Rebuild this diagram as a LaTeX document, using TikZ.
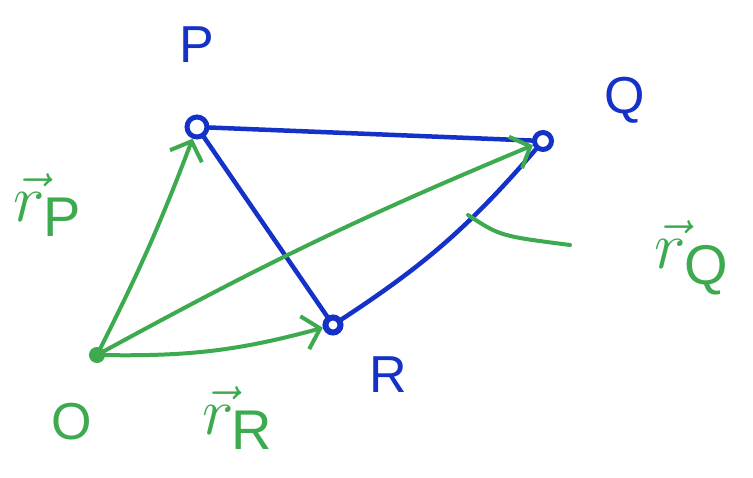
\documentclass[tikz,border=0pt]{standalone}
\usepackage{fontspec}
\setmainfont{Liberation Sans}
\usetikzlibrary{arrows.meta}
\definecolor{pen}{HTML}{1432C8}
\definecolor{grn}{HTML}{3DAA4F}
\tikzset{
  pt/.style={circle,draw=pen,line width=5pt,inner sep=0pt,minimum size=20pt},
  opt/.style={circle,fill=grn,draw=grn,line width=2pt,inner sep=0pt,minimum size=14pt},
  bl/.style={draw=pen,line width=4.5pt,line cap=round},
  gv/.style={draw=grn,line width=4pt,line cap=round,-{Straight Barb[length=16pt,width=34pt,line width=4pt]}},
  blab/.style={text=pen,font=\fontsize{52}{56}\selectfont},
  glab/.style={text=grn,font=\Huge,scale=2.7}
}
\begin{document}
\begin{tikzpicture}[x=1pt,y=-1pt]
\useasboundingbox (0,0) rectangle (753,478);
\fill[white] (0,0) rectangle (753,478);
\node[pt] (P) at (197,127) {};
\node[pt,minimum size=17pt] (Q) at (543,141) {};
\node[pt,minimum size=15pt,line width=6pt] (R) at (333,325) {};
\node[opt] (O) at (97,355) {};
\draw[bl] (P) -- (Q);
\draw[bl] (P) -- (R);
\draw[bl] (R) to[bend right=8] (Q);
\draw[gv] (O) to[bend right=3] (P);
\draw[gv] (O) to[bend left=3] (Q);
\draw[gv] (O) to[bend right=8] (R);
\coordinate (s1) at (468,215);
\coordinate (s2) at (570,245);
\draw[draw=grn,line width=4pt,line cap=round] (s1) .. controls (500,236) .. (s2);
\node[blab] (lP) at (197,45) {P};
\node[blab] (lQ) at (625,100) {Q};
\node[blab] (lR) at (388,375) {R};
\node[text=grn,font=\fontsize{52}{56}\selectfont] (lO) at (72,422) {O};
\node[glab] (lrP) at (48,205) {$\vec{r}_{\mathrm{P}}$};
\node[glab] (lrQ) at (692,258) {$\vec{r}_{\mathrm{Q}}$};
\node[glab] (lrR) at (238,418) {$\vec{r}_{\mathrm{R}}$};
\end{tikzpicture}
\end{document}
